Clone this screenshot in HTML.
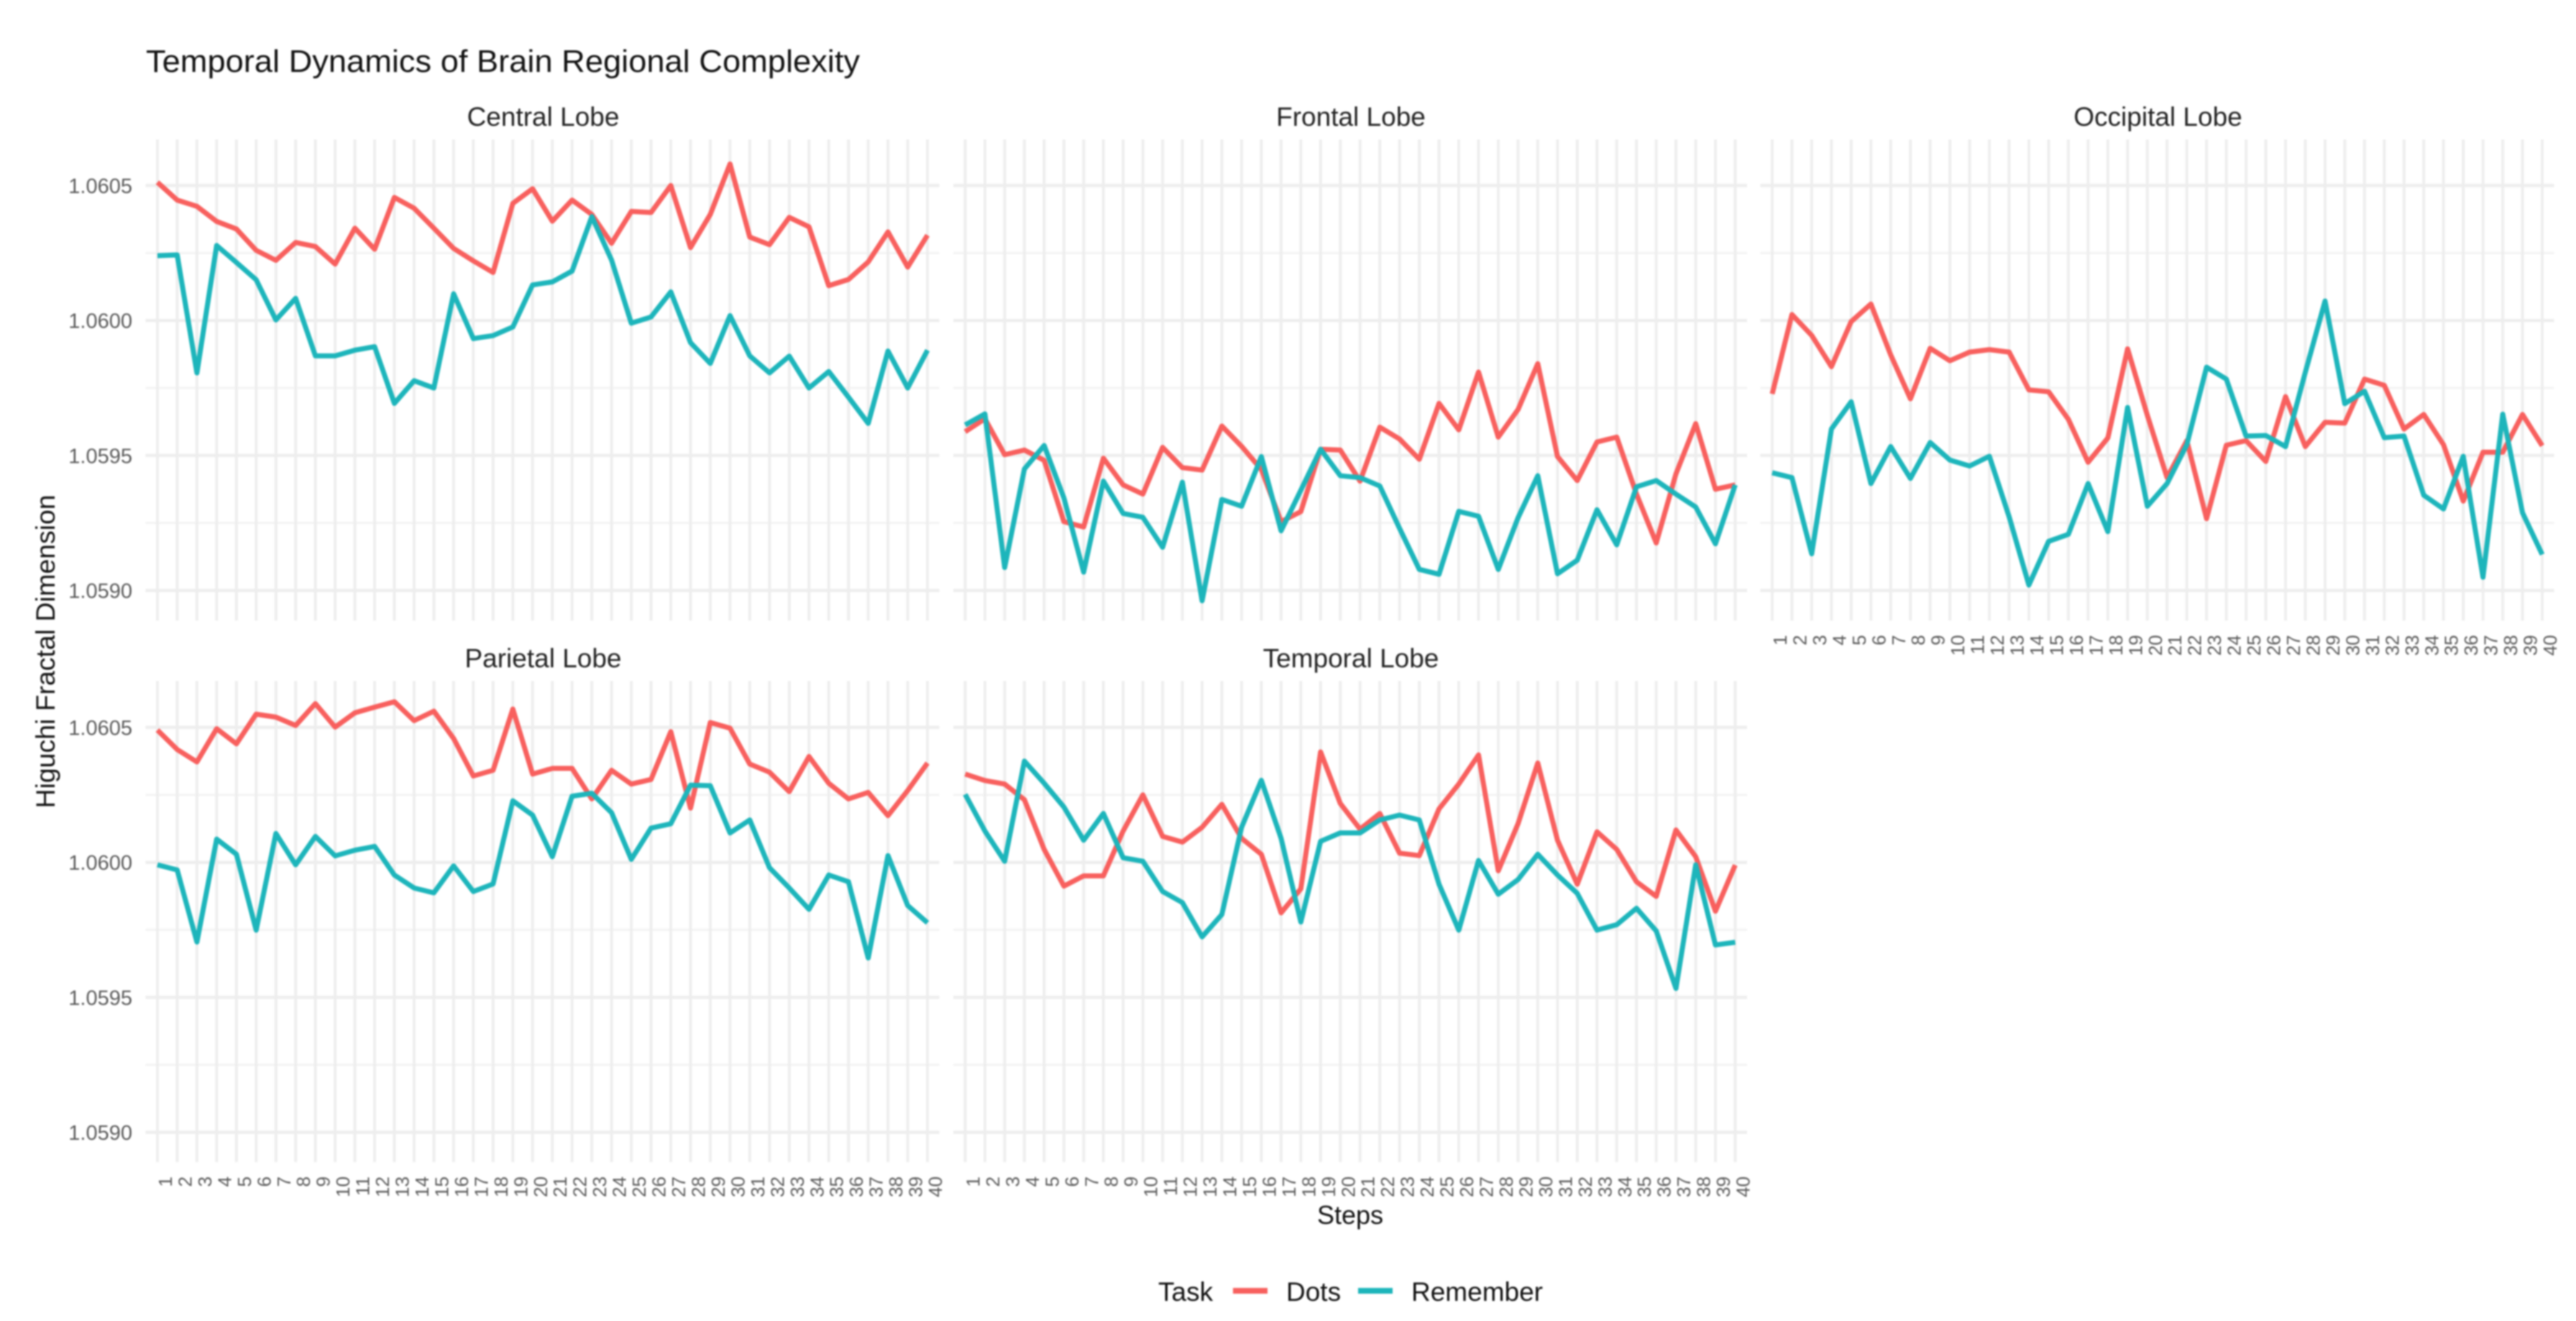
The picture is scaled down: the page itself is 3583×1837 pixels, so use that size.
<!DOCTYPE html>
<html lang="en">
<head>
<meta charset="utf-8">
<title>Temporal Dynamics of Brain Regional Complexity</title>
<style>
html,body{margin:0;padding:0;background:#fff;}
body{width:3583px;height:1837px;overflow:hidden;}
svg{display:block;filter:blur(1px);}
text{font-family:"Liberation Sans",sans-serif;}
</style>
</head>
<body>
<svg id="chart" xmlns="http://www.w3.org/2000/svg" width="3583" height="1837" viewBox="0 0 3583 1837">
  <rect x="0" y="0" width="3583" height="1837" fill="#ffffff"/>
  <g id="panels"></g>
  <text x="203" y="100" font-size="44" fill="#111111" textLength="993" lengthAdjust="spacingAndGlyphs">Temporal Dynamics of Brain Regional Complexity</text>
  <text transform="translate(76,906) rotate(-90)" text-anchor="middle" font-size="37" fill="#111111" textLength="436" lengthAdjust="spacingAndGlyphs">Higuchi Fractal Dimension</text>
  <text x="1878" y="1702" text-anchor="middle" font-size="36" fill="#111111">Steps</text>
  <g>
    <text x="1611" y="1809" font-size="37" fill="#111111">Task</text>
    <line x1="1715" y1="1795" x2="1763" y2="1795" stroke="#f8605e" stroke-width="8"/>
    <text x="1789" y="1809" font-size="37" fill="#111111">Dots</text>
    <line x1="1889" y1="1795" x2="1937" y2="1795" stroke="#1db5bb" stroke-width="8"/>
    <text x="1963" y="1809" font-size="37" fill="#111111">Remember</text>
  </g>
</svg>
<script>
var stepCount = 40;
var majorTicks = [1.0590, 1.0595, 1.0600, 1.0605];
var minorTicks = [1.05925, 1.05975, 1.06025];

var centralDots = [1.060512,1.060446,1.060423,1.060367,1.060339,1.060260,1.060223,1.060289,1.060274,1.060209,1.060342,1.060264,1.060456,1.060416,1.060342,1.060267,1.060221,1.060178,1.060434,1.060488,1.060368,1.060446,1.060393,1.060286,1.060404,1.060400,1.060500,1.060270,1.060393,1.060580,1.060309,1.060281,1.060382,1.060347,1.060129,1.060152,1.060217,1.060328,1.060198,1.060316];
var centralRemember = [1.060240,1.060243,1.059806,1.060278,1.060215,1.060151,1.060002,1.060082,1.059869,1.059869,1.059890,1.059903,1.059693,1.059777,1.059750,1.060099,1.059933,1.059944,1.059976,1.060132,1.060143,1.060183,1.060385,1.060224,1.059990,1.060013,1.060106,1.059918,1.059841,1.060018,1.059869,1.059806,1.059868,1.059750,1.059811,1.059716,1.059619,1.059887,1.059750,1.059890];

var frontalDots = [1.059588,1.059636,1.059503,1.059520,1.059482,1.059255,1.059235,1.059490,1.059391,1.059357,1.059530,1.059455,1.059446,1.059609,1.059534,1.059448,1.059255,1.059292,1.059523,1.059520,1.059405,1.059605,1.059561,1.059486,1.059693,1.059595,1.059809,1.059568,1.059670,1.059840,1.059496,1.059407,1.059550,1.059568,1.059357,1.059176,1.059432,1.059618,1.059375,1.059391];
var frontalRemember = [1.059613,1.059654,1.059085,1.059450,1.059537,1.059343,1.059068,1.059405,1.059285,1.059271,1.059160,1.059401,1.058962,1.059337,1.059312,1.059496,1.059221,1.059371,1.059523,1.059425,1.059418,1.059387,1.059230,1.059078,1.059060,1.059293,1.059275,1.059078,1.059269,1.059425,1.059062,1.059112,1.059299,1.059169,1.059384,1.059407,1.059357,1.059309,1.059173,1.059391];

var occipitalDots = [1.059728,1.060022,1.059945,1.059829,1.059996,1.060061,1.059873,1.059710,1.059897,1.059851,1.059883,1.059892,1.059883,1.059743,1.059736,1.059634,1.059475,1.059565,1.059895,1.059649,1.059418,1.059555,1.059266,1.059538,1.059555,1.059478,1.059718,1.059533,1.059623,1.059620,1.059783,1.059760,1.059598,1.059652,1.059540,1.059331,1.059512,1.059512,1.059652,1.059536];
var occipitalRemember = [1.059436,1.059418,1.059136,1.059598,1.059699,1.059396,1.059533,1.059415,1.059548,1.059483,1.059461,1.059497,1.059273,1.059020,1.059182,1.059208,1.059396,1.059218,1.059678,1.059312,1.059396,1.059540,1.059827,1.059783,1.059572,1.059574,1.059533,1.059808,1.060072,1.059692,1.059738,1.059566,1.059572,1.059353,1.059302,1.059497,1.059049,1.059653,1.059288,1.059133];

var parietalDots = [1.060490,1.060418,1.060372,1.060495,1.060439,1.060549,1.060538,1.060507,1.060588,1.060501,1.060554,1.060575,1.060595,1.060525,1.060560,1.060459,1.060320,1.060341,1.060568,1.060327,1.060348,1.060348,1.060235,1.060341,1.060290,1.060307,1.060484,1.060201,1.060518,1.060497,1.060364,1.060334,1.060262,1.060392,1.060293,1.060235,1.060259,1.060173,1.060266,1.060368];
var parietalRemember = [1.059991,1.059972,1.059705,1.060086,1.060030,1.059749,1.060107,1.059991,1.060096,1.060024,1.060045,1.060059,1.059953,1.059905,1.059887,1.059987,1.059892,1.059920,1.060228,1.060175,1.060021,1.060245,1.060256,1.060184,1.060011,1.060127,1.060143,1.060286,1.060284,1.060109,1.060157,1.059980,1.059905,1.059826,1.059953,1.059928,1.059646,1.060025,1.059840,1.059776];

var temporalDots = [1.060327,1.060303,1.060290,1.060232,1.060048,1.059912,1.059950,1.059950,1.060116,1.060250,1.060096,1.060075,1.060130,1.060215,1.060089,1.060030,1.059813,1.059902,1.060409,1.060218,1.060123,1.060181,1.060034,1.060025,1.060198,1.060290,1.060398,1.059969,1.060143,1.060368,1.060082,1.059919,1.060113,1.060048,1.059928,1.059874,1.060120,1.060021,1.059819,1.059990];
var temporalRemember = [1.060252,1.060116,1.060004,1.060375,1.060293,1.060205,1.060082,1.060181,1.060017,1.060004,1.059892,1.059851,1.059724,1.059807,1.060130,1.060304,1.060089,1.059779,1.060078,1.060109,1.060109,1.060157,1.060175,1.060157,1.059919,1.059749,1.060007,1.059882,1.059936,1.060030,1.059953,1.059885,1.059749,1.059769,1.059830,1.059746,1.059533,1.059991,1.059694,1.059704];

var NS = 'http://www.w3.org/2000/svg';
var COLOR_DOTS = '#f8605e';
var COLOR_REMEMBER = '#1db5bb';
var PANEL_W = 1104;
var PANEL_H = 669;
var COL_LEFT = [202.5, 1326, 2448.5];
var ROW_TOP = [194, 947];
var ROW_REF_Y = [258, 1011.5];
var PX_PER_UNIT = 187.7 / 0.0005;

function xScale(col, step) {
  var unit = PANEL_W / (stepCount - 1 + 1.2);
  return COL_LEFT[col] + (0.6 + (step - 1)) * unit;
}
function yScale(row, value) {
  return ROW_REF_Y[row] + (1.0605 - value) * PX_PER_UNIT;
}
function make(tag, attrs, parent) {
  var el = document.createElementNS(NS, tag);
  for (var k in attrs) { el.setAttribute(k, attrs[k]); }
  parent.appendChild(el);
  return el;
}
function drawSeries(group, col, row, values, color, name) {
  var pts = [];
  for (var i = 0; i < values.length; i++) {
    pts.push(xScale(col, i + 1).toFixed(2) + ',' + yScale(row, values[i]).toFixed(2));
  }
  var line = make('polyline', {points: pts.join(' '), fill: 'none', stroke: color, 'stroke-width': 7, 'stroke-linejoin': 'round', 'stroke-linecap': 'butt'}, group);
  
  
}
function drawPanel(opts) {
  var root = document.getElementById('panels');
  var col = opts.col, row = opts.row;
  var left = COL_LEFT[col], top = ROW_TOP[row];
  var g = make('g', {}, root);
  
  

  minorTicks.forEach(function (t) {
    var y = yScale(row, t);
    var gl = make('line', {x1: left, x2: left + PANEL_W, y1: y, y2: y, stroke: '#f3f3f3', 'stroke-width': 3}, g);
    
    
  });
  majorTicks.forEach(function (t) {
    var y = yScale(row, t);
    var gl = make('line', {x1: left, x2: left + PANEL_W, y1: y, y2: y, stroke: '#eeeeee', 'stroke-width': 4.5}, g);
    
    
  });
  for (var s = 1; s <= stepCount; s++) {
    var x = xScale(col, s);
    var vl = make('line', {x1: x, x2: x, y1: top, y2: top + PANEL_H, stroke: '#eeeeee', 'stroke-width': 4}, g);
    
    
  }

  drawSeries(g, col, row, opts.dots, COLOR_DOTS, opts.slug + '-dots-line');
  drawSeries(g, col, row, opts.remember, COLOR_REMEMBER, opts.slug + '-remember-line');

  var strip = make('text', {x: left + PANEL_W / 2 + 1, y: top - 19, 'text-anchor': 'middle', 'font-size': 37, fill: '#222222'}, g);
  strip.textContent = opts.title;
  
  

  if (opts.yLabels) {
    majorTicks.forEach(function (t) {
      var lab = make('text', {x: 184, y: yScale(row, t) + 10.5, 'text-anchor': 'end', 'font-size': 29, fill: '#5a5a5a'}, g);
      lab.textContent = t.toFixed(4);
      
      
    });
  }
  if (opts.xLabels) {
    for (var k = 1; k <= stepCount; k++) {
      var tx = xScale(col, k) + 11;
      var ty = top + PANEL_H + 20;
      var xl = make('text', {transform: 'translate(' + tx.toFixed(2) + ',' + ty + ') rotate(-90)', 'text-anchor': 'end', 'dominant-baseline': 'central', 'font-size': 26, fill: '#5a5a5a'}, g);
      xl.textContent = String(k);
      
      
    }
  }
}

drawPanel({slug: 'central-lobe', title: 'Central Lobe', col: 0, row: 0, dots: centralDots, remember: centralRemember, yLabels: true, xLabels: false});
drawPanel({slug: 'frontal-lobe', title: 'Frontal Lobe', col: 1, row: 0, dots: frontalDots, remember: frontalRemember, yLabels: false, xLabels: false});
drawPanel({slug: 'occipital-lobe', title: 'Occipital Lobe', col: 2, row: 0, dots: occipitalDots, remember: occipitalRemember, yLabels: false, xLabels: true});
drawPanel({slug: 'parietal-lobe', title: 'Parietal Lobe', col: 0, row: 1, dots: parietalDots, remember: parietalRemember, yLabels: true, xLabels: true});
drawPanel({slug: 'temporal-lobe', title: 'Temporal Lobe', col: 1, row: 1, dots: temporalDots, remember: temporalRemember, yLabels: false, xLabels: true});
</script>
</body>
</html>
